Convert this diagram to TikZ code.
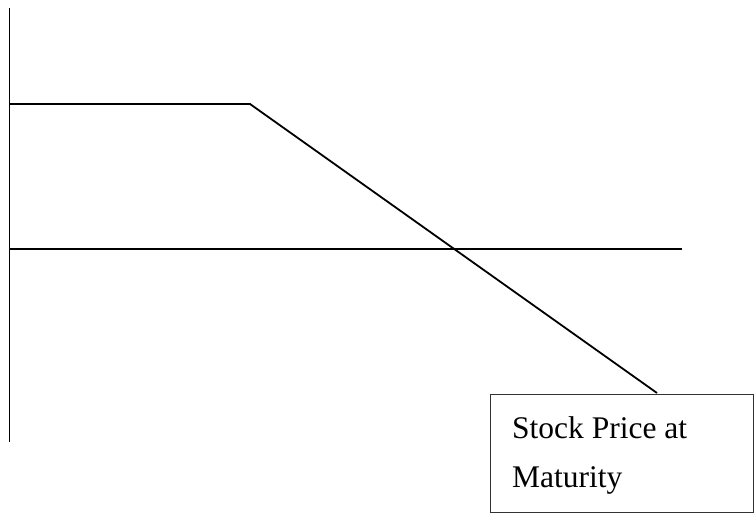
\documentclass[tikz,border=0pt]{standalone}
\usepackage{fontspec}
\setmainfont{Liberation Serif}
\begin{document}
\begin{tikzpicture}[x=1pt,y=-1pt,
  ln/.style={line width=1.8pt, black},
  lbl/.style={anchor=base west, inner sep=0pt, font=\fontsize{31.5}{40}\selectfont}]
\useasboundingbox (0,0) rectangle (754,513);
% axes
\coordinate (vtop) at (9.5,8);
\coordinate (vbot) at (9.5,442);
\draw[ln] (vtop) -- (vbot);
\coordinate (hstart) at (9.5,249);
\coordinate (hend) at (682,249);
\draw[ln] (hstart) -- (hend);
% payoff
\coordinate (p0) at (9.5,104);
\coordinate (kink) at (250,104);
\coordinate (pend) at (657,393);
\draw[ln, line join=miter] (p0) -- (kink) -- (pend);
% label box
\node[draw, line width=1.8pt, draw=black!80, minimum width=263pt, minimum height=118pt, inner sep=0pt, anchor=north west] (box) at (489.5,393.5) {};
\node[lbl] (t1) at (512,438.5) {Stock Price at};
\node[lbl] (t2) at (512,487) {Maturity};
\end{tikzpicture}
\end{document}
